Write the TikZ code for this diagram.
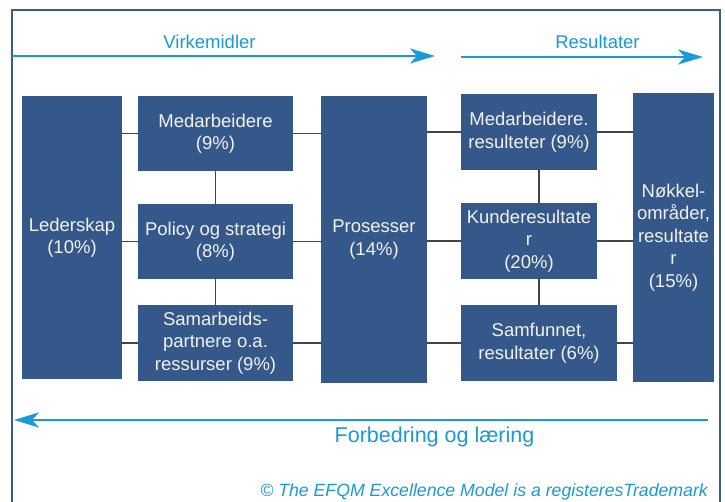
\documentclass[tikz,border=0pt]{standalone}
\usepackage{fontspec}
\setmainfont{Liberation Sans}
\usetikzlibrary{arrows.meta,calc}
\definecolor{boxblue}{HTML}{34588A}
\definecolor{framecol}{HTML}{3C5C8E}
\definecolor{arrowcyan}{HTML}{1A9AD7}
\definecolor{linegray}{HTML}{444444}
\definecolor{boxtext}{HTML}{F2F2F2}
\tikzset{
  blk/.style={fill=boxblue, draw=none, inner sep=0pt, align=center, text=boxtext,
    font=\fontsize{18.5}{22.5}\selectfont},
  conn/.style={draw=linegray, line width=1.1pt},
  flow/.style={draw=arrowcyan, line width=2.6pt,
    -{Stealth[length=25pt,width=15pt,inset=7pt]}},
  flowlbl/.style={text=arrowcyan, inner sep=0pt},
}
\begin{document}
\begin{tikzpicture}[x=1pt,y=-1pt]
\useasboundingbox (0,0) rectangle (725,502);
\clip (0,0) rectangle (725,502);
\fill[white] (0,0) rectangle (725,502);
\draw[framecol, line width=2pt] (12,10) rectangle (720,530);

% top arrows
\coordinate (vs) at (12,56);
\coordinate (ve) at (435,56);
\coordinate (rs) at (461,57);
\coordinate (re) at (703,57);
\draw[flow] (vs) -- (ve);
\draw[flow] (rs) -- (re);
\node[flowlbl, font=\fontsize{18.5}{22}\selectfont] (lv) at (209.5,42) {Virkemidler};
\node[flowlbl, font=\fontsize{18.5}{22}\selectfont] (lr) at (597.5,42) {Resultater};

% blocks
\node[blk, minimum width=100pt, minimum height=283pt] (led) at (72,237.5) {Lederskap\\(10\%)};
\node[blk, minimum width=155pt, minimum height=75pt] (med) at (215.5,133.5) {Medarbeidere\\(9\%)};
\node[blk, minimum width=155pt, minimum height=75pt] (pol) at (215.5,241.5) {Policy og strategi\\(8\%)};
\node[blk, minimum width=155pt, minimum height=76pt] (sam) at (215.5,343) {Samarbeids-\\partnere o.a.\\ressurser (9\%)};
\node[blk, minimum width=106pt, minimum height=287pt] (pro) at (374,239.5) {Prosesser\\(14\%)};
\node[blk, minimum width=136pt, minimum height=76pt] (mres) at (529,132) {Medarbeidere.\\resulteter (9\%)};
\node[blk, minimum width=136pt, minimum height=76pt] (kun) at (529,241) {Kunderesultate\\r\\(20\%)};
\node[blk, minimum width=156pt, minimum height=76pt] (smf) at (539,343) {Samfunnet,\\resultater (6\%)};
\node[blk, minimum width=81pt, minimum height=289pt] (nok) at (673.5,237.5) {Nøkkel-\\områder,\\resultate\\r\\(15\%)};

% connectors left
\draw[conn] (med.west -| led.east) -- (med.west);
\draw[conn] (pol.west -| led.east) -- (pol.west);
\draw[conn] (sam.west -| led.east) -- (sam.west);
\draw[conn] (med.south) -- (pol.north);
\draw[conn] (pol.south) -- (sam.north);
\draw[conn] (med.east) -- (med.east -| pro.west);
\draw[conn] (pol.east) -- (pol.east -| pro.west);
\draw[conn] (sam.east) -- (sam.east -| pro.west);
% connectors right
\draw[conn] (mres.west -| pro.east) -- (mres.west);
\draw[conn] (kun.west -| pro.east) -- (kun.west);
\draw[conn] (smf.west -| pro.east) -- (smf.west);
\draw[conn] (mres.south -| smf.north) -- (kun.north -| smf.north);
\draw[conn] (kun.south -| smf.north) -- (smf.north);
\draw[conn] (mres.east) -- (mres.east -| nok.west);
\draw[conn] (kun.east) -- (kun.east -| nok.west);
\draw[conn] (smf.east) -- (smf.east -| nok.west);

% bottom arrow
\coordinate (bs) at (708,420);
\coordinate (be) at (14,420);
\draw[flow] (bs) -- (be);
\node[flowlbl, font=\fontsize{21.5}{25}\selectfont] (lf) at (434.5,437) {Forbedring og læring};
\node[flowlbl, anchor=east, font=\fontsize{17.7}{21}\selectfont\itshape] (cp) at (708,492) {© The EFQM Excellence Model is a registeresTrademark};
\end{tikzpicture}
\end{document}
